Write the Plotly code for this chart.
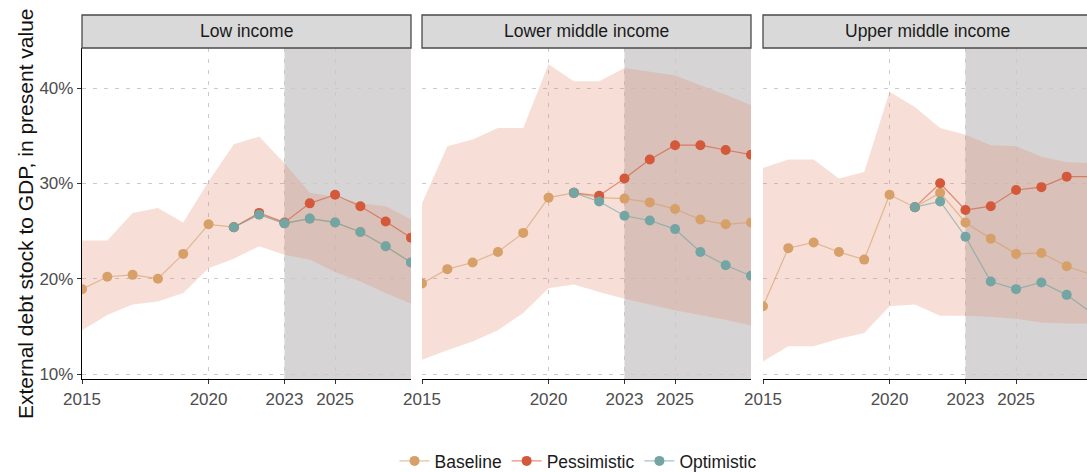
import plotly.graph_objects as go

# ---- data -------------------------------------------------------------
years = list(range(2015, 2029))
fc_years = list(range(2021, 2029))
panels = ["Low income", "Lower middle income", "Upper middle income"]

# Low income
low_baseline = [18.9, 20.2, 20.4, 20.0, 22.6, 25.7, 25.4, 26.8, 25.8, 26.3, 25.9, 24.9, 23.4, 21.7]
low_pessimistic = [25.4, 26.9, 25.9, 27.9, 28.8, 27.6, 26.0, 24.3]
low_optimistic = [25.4, 26.7, 25.8, 26.3, 25.9, 24.9, 23.4, 21.7]
low_upper = [24.0, 24.0, 26.9, 27.4, 25.9, 30.2, 34.1, 34.9, 32.1, 29.0, 28.6, 27.9, 27.6, 26.2]
low_lower = [14.6, 16.2, 17.3, 17.6, 18.5, 21.1, 22.1, 23.4, 22.5, 22.0, 20.7, 19.7, 18.5, 17.4]

# Lower middle income
lmi_baseline = [19.5, 21.0, 21.7, 22.8, 24.8, 28.5, 29.0, 28.5, 28.4, 28.0, 27.3, 26.2, 25.7, 25.9]
lmi_pessimistic = [29.0, 28.7, 30.5, 32.5, 34.0, 34.0, 33.5, 33.0]
lmi_optimistic = [29.0, 28.1, 26.6, 26.1, 25.2, 22.8, 21.4, 20.3]
lmi_upper = [27.9, 33.9, 34.6, 35.8, 35.8, 42.5, 40.7, 40.7, 42.1, 41.7, 41.3, 40.3, 39.3, 38.2]
lmi_lower = [11.5, 12.5, 13.4, 14.6, 16.4, 19.0, 19.4, 18.6, 17.9, 17.3, 16.7, 16.2, 15.7, 15.1]

# Upper middle income
umi_baseline = [17.1, 23.2, 23.8, 22.8, 22.0, 28.8, 27.5, 29.0, 25.9, 24.2, 22.6, 22.7, 21.3, 20.4]
umi_pessimistic = [27.5, 30.0, 27.2, 27.6, 29.3, 29.6, 30.7, 30.7]
umi_optimistic = [27.5, 28.1, 24.4, 19.7, 18.9, 19.6, 18.3, 16.4]
umi_upper = [31.6, 32.5, 32.5, 30.5, 31.2, 39.6, 38.0, 35.8, 35.1, 34.0, 33.9, 32.8, 32.2, 32.1]
umi_lower = [11.3, 12.9, 12.9, 13.7, 14.3, 17.1, 17.3, 16.1, 16.1, 16.0, 15.8, 15.4, 15.3, 15.3]

y_ticks = [10, 20, 30, 40]
y_ticktext = ["10%", "20%", "30%", "40%"]
x_ticks = [2015, 2020, 2023, 2025]
projection_start = 2023

panel_data = [
    (low_baseline, low_pessimistic, low_optimistic, low_upper, low_lower),
    (lmi_baseline, lmi_pessimistic, lmi_optimistic, lmi_upper, lmi_lower),
    (umi_baseline, umi_pessimistic, umi_optimistic, umi_upper, umi_lower),
]

# ---- styling ----------------------------------------------------------
W, H = 1087, 472
FONT = "Liberation Sans, Arial, sans-serif"
colors = {
    "Baseline": "#d6a068",
    "Pessimistic": "#d4583a",
    "Optimistic": "#72a5a3",
}
line_rgba = {
    "Baseline": "rgba(214,160,104,0.65)",
    "Pessimistic": "rgba(212,88,58,0.65)",
    "Optimistic": "rgba(114,165,163,0.65)",
}
ribbon_fill = "rgba(226,140,112,0.28)"
grid_color = "#cacaca"
tick_color = "#4d4d4d"

px_per_year = 329 / 13
panel_left = [82, 422, 763]
panel_width = 329
plot_top, plot_bottom = 48, 379
strip_top = 15
y_range = [10 - (379 - 374) / 9.533, 40 + (88 - 48) / 9.533]


def fx(p):
    return p / W


def fy(p):
    return 1 - p / H


fig = go.Figure()

for i, (base, pess, opt, upper, lower) in enumerate(panel_data):
    xa = "x" if i == 0 else f"x{i + 1}"
    ya = "y" if i == 0 else f"y{i + 1}"
    # uncertainty band
    fig.add_trace(go.Scatter(
        x=years + years[::-1], y=upper + lower[::-1],
        fill="toself", fillcolor=ribbon_fill, line=dict(width=0),
        mode="lines", hoverinfo="skip", showlegend=False,
        xaxis=xa, yaxis=ya,
    ))
    for name, xs, ys in [
        ("Baseline", years, base),
        ("Pessimistic", fc_years, pess),
        ("Optimistic", fc_years, opt),
    ]:
        fig.add_trace(go.Scatter(
            x=xs, y=ys, mode="lines+markers", name=name,
            legendgroup=name, showlegend=(i == 0),
            line=dict(color=line_rgba[name], width=1.2),
            marker=dict(color=colors[name], size=10, line=dict(width=0)),
            xaxis=xa, yaxis=ya, cliponaxis=True,
        ))

layout_axes = {}
shapes = []
annotations = []
for i in range(3):
    left = panel_left[i]
    right = min(left + panel_width, W)
    x_end = 2015 + (right - left) / px_per_year
    xkey = "xaxis" if i == 0 else f"xaxis{i + 1}"
    ykey = "yaxis" if i == 0 else f"yaxis{i + 1}"
    ya = "y" if i == 0 else f"y{i + 1}"
    xa = "x" if i == 0 else f"x{i + 1}"
    layout_axes[xkey] = dict(
        domain=[fx(left), fx(right)], range=[2015, x_end], anchor=ya,
        tickvals=x_ticks, ticktext=[str(t) for t in x_ticks],
        showgrid=True, gridcolor=grid_color, griddash="4px,7px", gridwidth=1,
        showline=True, linecolor="#000000", linewidth=1.3,
        ticks="outside", ticklen=4, tickcolor="#333333", tickwidth=1,
        tickfont=dict(family=FONT, size=17, color=tick_color),
        zeroline=False, fixedrange=True, automargin=False,
    )
    layout_axes[ykey] = dict(
        domain=[fy(plot_bottom), fy(plot_top)], range=y_range, anchor=xa,
        tickvals=y_ticks, ticktext=y_ticktext,
        showgrid=True, gridcolor=grid_color, griddash="4px,7px", gridwidth=1,
        showline=(i == 0), linecolor="#000000", linewidth=1.3,
        ticks="outside" if i == 0 else "", ticklen=4, tickcolor="#333333",
        showticklabels=(i == 0),
        tickfont=dict(family=FONT, size=17, color=tick_color),
        zeroline=False, fixedrange=True, automargin=False,
    )
    # projection period shading
    shapes.append(dict(
        type="rect", xref=xa, yref=f"{ya} domain",
        x0=projection_start, x1=x_end, y0=0, y1=1,
        fillcolor="#d6d4d4", line=dict(width=0), layer="below",
    ))
    # facet strip
    strip_right = left + panel_width
    shapes.append(dict(
        type="rect", xref="paper", yref="paper",
        x0=fx(left), x1=fx(strip_right), y0=fy(plot_top), y1=fy(strip_top),
        fillcolor="#d9d9d9", line=dict(color="#4a4a4a", width=1.3), layer="above",
    ))
    annotations.append(dict(
        text=panels[i], xref="paper", yref="paper",
        x=fx(left + panel_width / 2), y=fy((strip_top + plot_top) / 2),
        xanchor="center", yanchor="middle", showarrow=False,
        font=dict(family=FONT, size=17.5, color="#1a1a1a"),
    ))

annotations.append(dict(
    text="External debt stock to GDP, in present value",
    xref="paper", yref="paper", x=fx(25), y=fy(214),
    xanchor="center", yanchor="middle", textangle=-90, showarrow=False,
    font=dict(family=FONT, size=21, color="#111111"),
))

fig.update_layout(
    width=W, height=H, autosize=False,
    margin=dict(l=0, r=0, t=0, b=0, autoexpand=False),
    paper_bgcolor="#ffffff", plot_bgcolor="#ffffff",
    shapes=shapes, annotations=annotations,
    showlegend=True,
    legend=dict(
        orientation="h", x=fx(578), y=fy(461), xanchor="center", yanchor="middle",
        font=dict(family=FONT, size=17.5, color="#1a1a1a"),
        bgcolor="rgba(0,0,0,0)", itemwidth=30, tracegroupgap=0,
    ),
    **layout_axes,
)

fig.write_html("out.html")
